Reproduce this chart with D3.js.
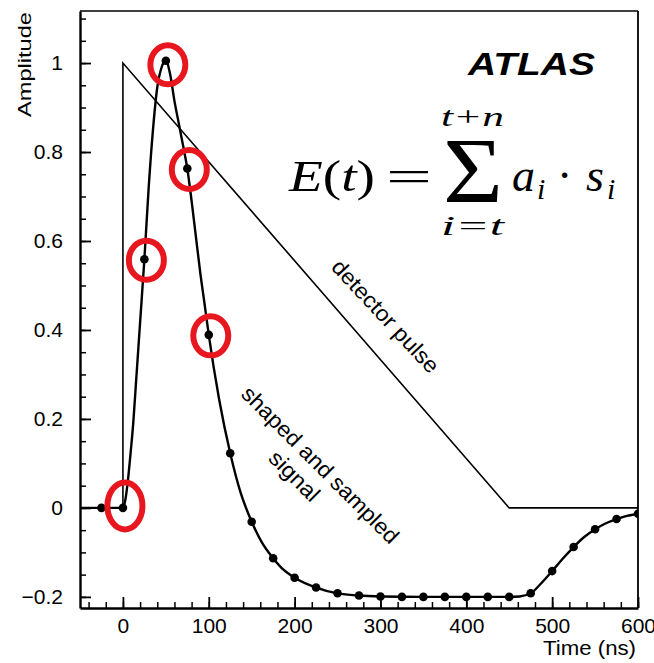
<!DOCTYPE html>
<html>
<head>
<meta charset="utf-8">
<script src="https://cdn.jsdelivr.net/npm/d3@7"></script>
<style>
  body { margin: 0; background: #fff; }
  text { font-family: "Liberation Sans", Arial, sans-serif; fill: #000; }
  .math text, .math tspan { font-family: "Liberation Serif", "Times New Roman", serif; }
</style>
</head>
<body>
<div id="chart"></div>
<script>
// sampled signal, one sample every 25 ns
const sampleTime = [-25, 0, 25, 50, 75, 100, 125, 150, 175, 200, 225, 250, 275, 300,
                    325, 350, 375, 400, 425, 450, 475, 500, 525, 550, 575, 600];
const sampleAmp = [0, 0, 0.559, 1.005, 0.763, 0.389, 0.123, -0.031, -0.113, -0.157, -0.179, -0.192, -0.197, -0.199,
                   -0.2, -0.2, -0.2, -0.2, -0.2, -0.2, -0.192, -0.142, -0.088, -0.048, -0.025, -0.013];

// shaped signal curve
const curveTime = [-50, -25, 0, 3, 6, 9, 12, 15, 18, 21, 25, 30, 35, 40, 45, 50, 55, 60, 65, 70, 75,
                   80, 85, 90, 95, 100, 112, 125, 137, 150, 162, 175, 187, 200, 225, 250, 275, 300,
                   350, 400, 450, 462, 475, 487, 500, 512, 525, 537, 550, 562, 575, 587, 600];
const curveAmp = [0, 0, 0, 0.02, 0.065, 0.125, 0.19, 0.275, 0.36, 0.445, 0.559, 0.72, 0.85, 0.945, 0.99, 1.005, 0.975, 0.915, 0.865, 0.815, 0.763,
                  0.69, 0.61, 0.53, 0.46, 0.389, 0.245, 0.123, 0.035, -0.031, -0.078, -0.113, -0.139, -0.157, -0.179, -0.192, -0.197, -0.199,
                  -0.2, -0.2, -0.2, -0.199, -0.192, -0.17, -0.142, -0.115, -0.088, -0.066, -0.048, -0.035, -0.025, -0.018, -0.013];

// triangular detector pulse
const pulseTime = [-50, 0, 0, 450, 600];
const pulseAmp = [0, 0, 1, 0, 0];

// samples marked with red rings
const ringedTime = [0, 25, 50, 75, 100];

const xTicks = [0, 100, 200, 300, 400, 500, 600];
const xTickLabels = ["0", "100", "200", "300", "400", "500", "600"];
const yTicks = [-0.2, 0, 0.2, 0.4, 0.6, 0.8, 1];
const yTickLabels = ["\u22120.2", "0", "0.2", "0.4", "0.6", "0.8", "1"];

const margin = { top: 11, right: 16, bottom: 55, left: 80 };
const width = 654 - margin.left - margin.right;
const height = 663 - margin.top - margin.bottom;

const svg = d3.select("#chart").append("svg")
    .attr("width", 654)
    .attr("height", 663);

const g = svg.append("g")
    .attr("transform", "translate(" + margin.left + "," + margin.top + ")");

const x = d3.scaleLinear().domain([-50, 600]).range([0, width]);
const y = d3.scaleLinear().domain([-0.225, 1.117]).range([height, 0]);

svg.append("defs").append("clipPath").attr("id", "plotclip")
  .append("rect").attr("width", width).attr("height", height);

// minor ticks
g.append("g")
    .call(d3.axisLeft(y).tickValues(d3.range(-0.2, 1.11, 0.05)).tickSizeInner(-6).tickSizeOuter(0).tickFormat(""))
    .call(a => a.select(".domain").remove())
    .selectAll("line").attr("stroke-width", 1.5);
g.append("g")
    .attr("transform", "translate(0," + height + ")")
    .call(d3.axisBottom(x).tickValues(d3.range(-40, 601, 20)).tickSizeInner(-6).tickSizeOuter(0).tickFormat(""))
    .call(a => a.select(".domain").remove())
    .selectAll("line").attr("stroke-width", 1.5);

// major ticks and labels
const yAxis = g.append("g")
    .call(d3.axisLeft(y).tickValues(yTicks).tickSizeInner(-11).tickSizeOuter(0).tickPadding(17)
      .tickFormat((d, i) => yTickLabels[i]));
const xAxis = g.append("g")
    .attr("transform", "translate(0," + height + ")")
    .call(d3.axisBottom(x).tickValues(xTicks).tickSizeInner(-11).tickSizeOuter(0).tickPadding(10)
      .tickFormat((d, i) => xTickLabels[i]));

[yAxis, xAxis].forEach(a => {
  a.select(".domain").attr("stroke-width", 2.4);
  a.selectAll(".tick line").attr("stroke-width", 1.8);
  a.selectAll(".tick text").style("font-size", "21px").attr("font-family", null);
});

// frame top / right
g.append("line").attr("x1", 0).attr("x2", width).attr("y1", 0).attr("y2", 0)
    .attr("stroke", "#000").attr("stroke-width", 1.6);
g.append("line").attr("x1", width).attr("x2", width).attr("y1", 0).attr("y2", height)
    .attr("stroke", "#000").attr("stroke-width", 1.8);

const plot = g.append("g").attr("clip-path", "url(#plotclip)");

// detector pulse
const pulse = pulseTime.map((t, i) => [t, pulseAmp[i]]);
plot.append("path")
    .datum(pulse)
    .attr("d", d3.line().x(d => x(d[0])).y(d => y(d[1])))
    .attr("fill", "none")
    .attr("stroke", "#000")
    .attr("stroke-width", 1.6);

// shaped signal
const curve = curveTime.map((t, i) => [t, curveAmp[i]]);
plot.append("path")
    .datum(curve)
    .attr("d", d3.line().x(d => x(d[0])).y(d => y(d[1])).curve(d3.curveMonotoneX))
    .attr("fill", "none")
    .attr("stroke", "#000")
    .attr("stroke-width", 2.4);

// samples
const samples = sampleTime.map((t, i) => ({ t: t, v: sampleAmp[i] }));
plot.selectAll("circle.sample")
    .data(samples)
    .enter().append("circle")
    .attr("class", "sample")
    .attr("cx", d => x(d.t))
    .attr("cy", d => y(d.v))
    .attr("r", 4.3)
    .attr("fill", "#000");

// red rings
g.selectAll("ellipse.ring")
    .data(samples.filter(d => ringedTime.includes(d.t)))
    .enter().append("ellipse")
    .attr("class", "ring")
    .attr("cx", d => x(d.t) + 2)
    .attr("cy", d => y(d.v) + (d.t === 0 ? -2 : d.t === 50 ? 4 : 1))
    .attr("rx", 17.5)
    .attr("ry", d => d.t === 0 ? 23.5 : 19.5)
    .attr("fill", "none")
    .attr("stroke", "#e8161e")
    .attr("stroke-width", 6);

// axis titles
svg.append("text")
    .attr("transform", "translate(31,12) rotate(-90)")
    .attr("text-anchor", "end")
    .attr("textLength", 105)
    .attr("lengthAdjust", "spacingAndGlyphs")
    .style("font-size", "19px")
    .text("Amplitude");

svg.append("text")
    .attr("x", 543)
    .attr("y", 655)
    .attr("textLength", 93)
    .attr("lengthAdjust", "spacingAndGlyphs")
    .style("font-size", "20px")
    .text("Time (ns)");

// curve labels
g.append("text")
    .attr("transform", "translate(" + x(306) + "," + y(0.431) + ") rotate(47)")
    .attr("text-anchor", "middle")
    .attr("dy", "0.35em")
    .attr("textLength", 146)
    .attr("lengthAdjust", "spacingAndGlyphs")
    .style("font-size", "22px")
    .text("detector pulse");

g.append("text")
    .attr("transform", "translate(" + x(230) + "," + y(0.097) + ") rotate(45)")
    .attr("text-anchor", "middle")
    .attr("dy", "0.35em")
    .attr("textLength", 212)
    .attr("lengthAdjust", "spacingAndGlyphs")
    .style("font-size", "22px")
    .text("shaped and sampled");

g.append("text")
    .attr("transform", "translate(" + x(200) + "," + y(0.072) + ") rotate(45)")
    .attr("text-anchor", "middle")
    .attr("dy", "0.35em")
    .attr("textLength", 62)
    .attr("lengthAdjust", "spacingAndGlyphs")
    .style("font-size", "22px")
    .text("signal");

// ATLAS label
svg.append("text")
    .attr("x", 595)
    .attr("y", 75)
    .attr("text-anchor", "end")
    .attr("textLength", 127)
    .attr("lengthAdjust", "spacingAndGlyphs")
    .style("font-size", "31px")
    .style("font-weight", "bold")
    .style("font-style", "italic")
    .text("ATLAS");

// formula E(t) = sum_{i=t}^{t+n} a_i . s_i
const math = svg.append("g").attr("class", "math");
const lhs = math.append("text").attr("x", 289).attr("y", 191)
    .attr("textLength", 86).attr("lengthAdjust", "spacingAndGlyphs")
    .style("font-size", "44px");
lhs.append("tspan").style("font-style", "italic").text("E");
lhs.append("tspan").text("(");
lhs.append("tspan").style("font-style", "italic").text("t");
lhs.append("tspan").text(")");

math.append("text").attr("x", 386).attr("y", 191)
    .attr("textLength", 46).attr("lengthAdjust", "spacingAndGlyphs")
    .style("font-size", "44px").text("=");

math.append("text").attr("x", 443).attr("y", 202)
    .attr("textLength", 60).attr("lengthAdjust", "spacingAndGlyphs")
    .style("font-size", "94px").text("\u03A3");

math.append("text").attr("x", 441).attr("y", 126)
    .attr("textLength", 63).attr("lengthAdjust", "spacingAndGlyphs")
    .style("font-size", "28px").style("font-style", "italic").text("t+n");

math.append("text").attr("x", 441).attr("y", 235)
    .attr("textLength", 63).attr("lengthAdjust", "spacingAndGlyphs")
    .style("font-size", "28px").style("font-style", "italic").text("i=t");

math.append("text").attr("x", 512).attr("y", 191)
    .style("font-size", "46px").style("font-style", "italic").text("a");
math.append("text").attr("x", 537).attr("y", 199)
    .style("font-size", "30px").style("font-style", "italic").text("i");
math.append("text").attr("x", 557).attr("y", 191)
    .style("font-size", "46px").text("\u00B7");
math.append("text").attr("x", 586).attr("y", 191)
    .style("font-size", "46px").style("font-style", "italic").text("s");
math.append("text").attr("x", 607).attr("y", 199)
    .style("font-size", "30px").style("font-style", "italic").text("i");
</script>
</body>
</html>
